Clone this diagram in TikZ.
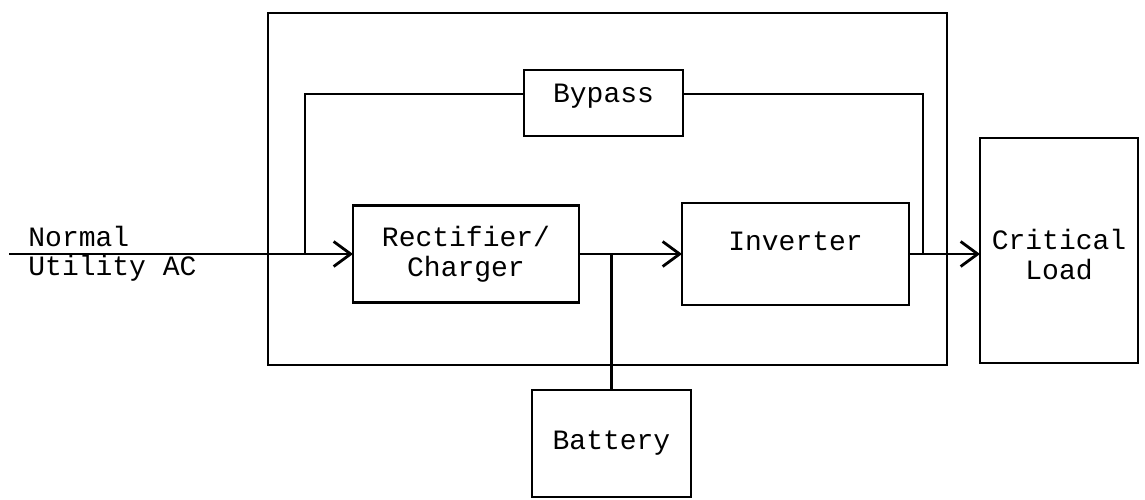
\documentclass[tikz,border=0pt]{standalone}
\usepackage{fontspec}
\setmonofont{Liberation Mono}
\usetikzlibrary{arrows.meta}
\begin{document}
\begin{tikzpicture}[x=1pt,y=-1pt,line width=2.8pt,
  box/.style={draw,inner sep=0pt,outer sep=0pt},
  txt/.style={inner sep=0pt,font=\ttfamily\fontsize{28}{29.5}\selectfont,align=center},
  arr/.style={-{Straight Barb[length=17pt,width=25pt,line width=2.8pt]}}]
\useasboundingbox (0,0) rectangle (1145,499);
% boxes
\node[box,minimum width=679pt,minimum height=352pt] (ups) at (607.5,189) {};
\node[box,minimum width=159pt,minimum height=66pt] (byp) at (603.5,103) {};
\node[txt] (bypt) at ([yshift=7pt]byp.center) {Bypass};
\node[box,minimum width=226pt,minimum height=97pt,txt] (rect) at (466,254) {Rectifier/\\Charger};
\node[box,minimum width=227pt,minimum height=102pt] (inv) at (795.5,254) {};
\node[txt] (invt) at ([yshift=13pt]inv.center) {Inverter};
\node[box,minimum width=159pt,minimum height=107pt,txt] (bat) at (611.5,443.5) {Battery};
\node[box,minimum width=158pt,minimum height=225pt] (load) at (1059,250.5) {};
\node[txt] (loadt) at ([yshift=-4pt]load.center) {Critical\\Load};
\node[txt,align=left,anchor=west] (inlbl) at (27,254) {Normal\\Utility AC};
% connectors
\coordinate (in) at (9,254);
\coordinate (j1) at (305,254);
\coordinate (bl) at (305,94);
\coordinate (br) at (923,94);
\draw[arr] (in) -- (in -| rect.west);
\draw (j1) -- (bl) -- (bl -| byp.west);
\draw (bl -| byp.east) -- (br) -- (br |- inv.east);
\draw[arr] (rect.east) -- (inv.west);
\draw (bat.north) -- (bat.north |- rect.east);
\draw[arr] (inv.east) -- (inv.east -| load.west);
\end{tikzpicture}
\end{document}
